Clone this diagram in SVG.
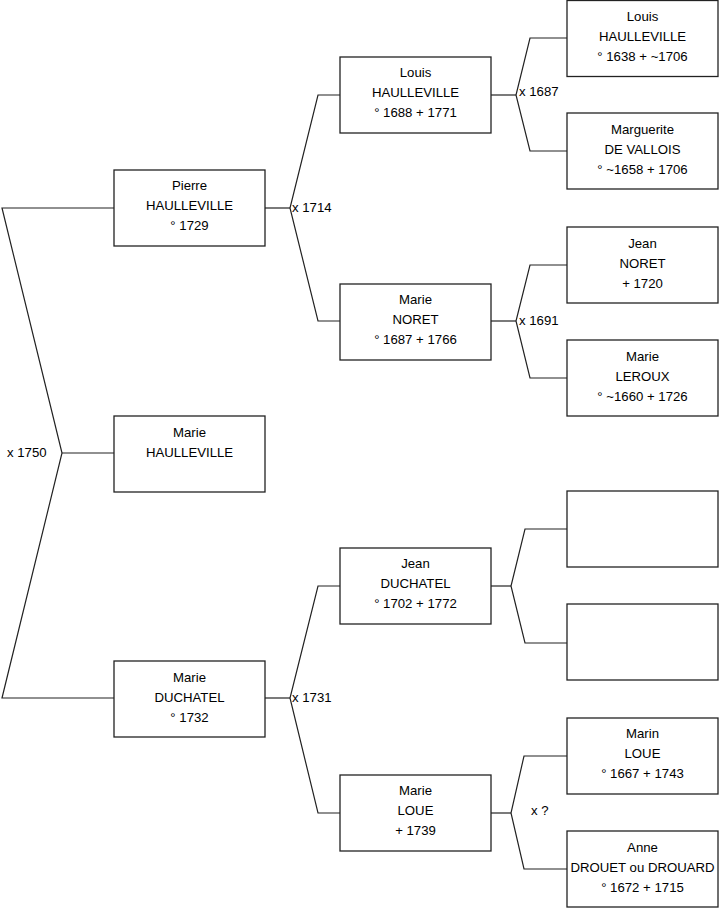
<svg xmlns="http://www.w3.org/2000/svg" width="719" height="908" viewBox="0 0 719 908">
<style>
.box{fill:#fff;stroke:#222;stroke-width:1.3}
.ln{fill:none;stroke:#222;stroke-width:1.2}
text{font-family:"Liberation Sans",Arial,sans-serif;font-size:13.2px;fill:#000}
.c{text-anchor:middle}
</style>
<rect width="719" height="908" fill="#fff"/>
<g id="connectors">
<polyline class="ln" points="114,208 2,208 62,453 2,698 114,698"/>
<line class="ln" x1="62" y1="453" x2="114" y2="453"/>
<polyline class="ln" points="340,95 318,95 290,208 318,321 340,321"/>
<line class="ln" x1="265" y1="208" x2="290" y2="208"/>
<polyline class="ln" points="340,586 318,586 290,698 318,813 340,813"/>
<line class="ln" x1="265" y1="698" x2="290" y2="698"/>
<polyline class="ln" points="567,38 530,38 516,95 530,151 567,151"/>
<line class="ln" x1="491" y1="95" x2="516" y2="95"/>
<polyline class="ln" points="567,265 530,265 516,321 530,378 567,378"/>
<line class="ln" x1="491" y1="321" x2="516" y2="321"/>
<polyline class="ln" points="567,529 525,529 511,586 525,643 567,643"/>
<line class="ln" x1="491" y1="586" x2="511" y2="586"/>
<polyline class="ln" points="567,756 524,756 511,813 524,869 567,869"/>
<line class="ln" x1="491" y1="813" x2="511" y2="813"/>
<text x="7" y="457">x 1750</text>
<text x="292" y="212">x 1714</text>
<text x="292" y="702">x 1731</text>
<text x="519" y="96">x 1687</text>
<text x="519" y="325">x 1691</text>
<text x="531" y="815">x ?</text>
</g>
<g id="pierre"><rect class="box" x="114" y="170" width="151" height="76"/><text class="c" x="189.5" y="190">Pierre</text><text class="c" x="189.5" y="210">HAULLEVILLE</text><text class="c" x="189.5" y="230">° 1729</text></g>
<g id="marie-haulleville"><rect class="box" x="114" y="416" width="151" height="76"/><text class="c" x="189.5" y="437">Marie</text><text class="c" x="189.5" y="457">HAULLEVILLE</text></g>
<g id="marie-duchatel"><rect class="box" x="114" y="661" width="151" height="76"/><text class="c" x="189.5" y="682">Marie</text><text class="c" x="189.5" y="702">DUCHATEL</text><text class="c" x="189.5" y="722">° 1732</text></g>
<g id="louis-1688"><rect class="box" x="340" y="57" width="151" height="76"/><text class="c" x="415.5" y="77">Louis</text><text class="c" x="415.5" y="97">HAULLEVILLE</text><text class="c" x="415.5" y="117">° 1688 + 1771</text></g>
<g id="marie-noret"><rect class="box" x="340" y="284" width="151" height="76"/><text class="c" x="415.5" y="304">Marie</text><text class="c" x="415.5" y="324">NORET</text><text class="c" x="415.5" y="344">° 1687 + 1766</text></g>
<g id="jean-duchatel"><rect class="box" x="340" y="548" width="151" height="76"/><text class="c" x="415.5" y="568">Jean</text><text class="c" x="415.5" y="588">DUCHATEL</text><text class="c" x="415.5" y="608">° 1702 + 1772</text></g>
<g id="marie-loue"><rect class="box" x="340" y="775" width="151" height="76"/><text class="c" x="415.5" y="795">Marie</text><text class="c" x="415.5" y="815">LOUE</text><text class="c" x="415.5" y="835">+ 1739</text></g>
<g id="louis-1638"><rect class="box" x="567" y="0.5" width="151" height="76"/><text class="c" x="642.5" y="21">Louis</text><text class="c" x="642.5" y="41">HAULLEVILLE</text><text class="c" x="642.5" y="61">° 1638 + ~1706</text></g>
<g id="marguerite"><rect class="box" x="567" y="113" width="151" height="76"/><text class="c" x="642.5" y="134">Marguerite</text><text class="c" x="642.5" y="154">DE VALLOIS</text><text class="c" x="642.5" y="174">° ~1658 + 1706</text></g>
<g id="jean-noret"><rect class="box" x="567" y="227" width="151" height="76"/><text class="c" x="642.5" y="248">Jean</text><text class="c" x="642.5" y="268">NORET</text><text class="c" x="642.5" y="288">+ 1720</text></g>
<g id="marie-leroux"><rect class="box" x="567" y="340" width="151" height="76"/><text class="c" x="642.5" y="361">Marie</text><text class="c" x="642.5" y="381">LEROUX</text><text class="c" x="642.5" y="401">° ~1660 + 1726</text></g>
<g id="empty-1"><rect class="box" x="567" y="491" width="151" height="76"/></g>
<g id="empty-2"><rect class="box" x="567" y="604" width="151" height="76"/></g>
<g id="marin-loue"><rect class="box" x="567" y="718" width="151" height="76"/><text class="c" x="642.5" y="738">Marin</text><text class="c" x="642.5" y="758">LOUE</text><text class="c" x="642.5" y="778">° 1667 + 1743</text></g>
<g id="anne-drouet"><rect class="box" x="567" y="831" width="151" height="76"/><text class="c" x="642.5" y="852">Anne</text><text class="c" x="642.5" y="872">DROUET ou DROUARD</text><text class="c" x="642.5" y="892">° 1672 + 1715</text></g>
</svg>
